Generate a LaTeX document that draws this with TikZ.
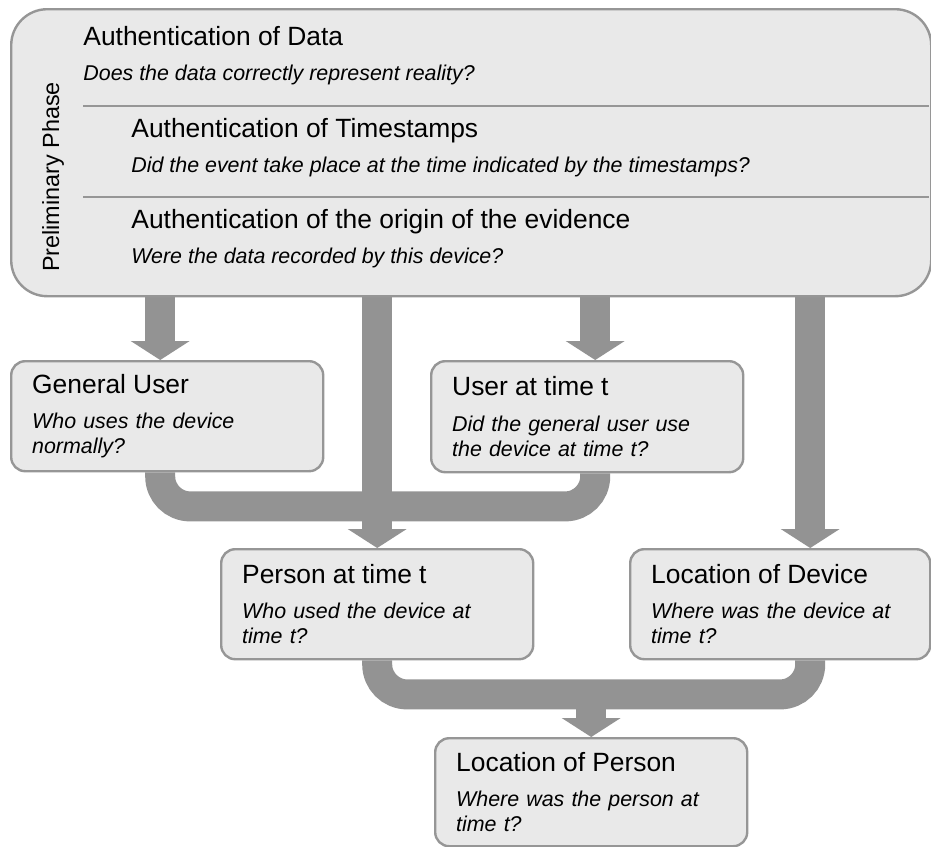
\documentclass[tikz,border=0pt]{standalone}
\usepackage{fontspec}
\setmainfont{Liberation Sans}
\usetikzlibrary{arrows.meta,backgrounds}
\definecolor{boxfill}{HTML}{E9E9E9}
\definecolor{boxline}{HTML}{969696}
\definecolor{flowgray}{HTML}{939393}
\newcommand\subfont{\fontsize{10.7pt}{12.5pt}\selectfont\itshape}
\newcommand\headfont{\fontsize{13.2pt}{16pt}\selectfont\upshape}
\newcommand\boxtitle[1]{{\headfont #1}}
\tikzset{
  box/.style={draw=boxline, line width=1.2pt, fill=boxfill, rounded corners=7pt,
    anchor=north west, align=left, inner xsep=10.5pt, inner ysep=0pt, font=\subfont},
  boxhead/.style={font=\headfont, anchor=base west, inner sep=0pt},
  quest/.style={font=\subfont, anchor=base west, inner sep=0pt},
  rulesep/.style={draw=boxline, line width=1.2pt},
  flowarrow/.style={draw=flowgray, line width=15pt,
    -{Triangle[width=29.5pt,length=9.5pt,line width=0pt]}},
  flowband/.style={draw=flowgray, line width=15pt, rounded corners=15pt},
}

\begin{document}
\begin{tikzpicture}[x=0.5pt, y=-0.5pt]
\useasboundingbox (0,0) rectangle (931,846);
% preliminary phase
\node[box, minimum width=460pt, minimum height=143.5pt, rounded corners=18pt] (top) at (10,8) {};
\node[rotate=90, anchor=base, font=\fontsize{11.7pt}{14pt}\selectfont] (phase) at (59,177) {Preliminary Phase};
\node[boxhead] (t1) at (83,46) {Authentication of Data};
\node[quest] (q1) at (83,80) {Does the data correctly represent reality?};
\draw[rulesep] (83,106) -- (929,106);
\node[boxhead] (t2) at (131,137) {Authentication of Timestamps};
\node[quest] (q2) at (131,172) {Did the event take place at the time indicated by the timestamps?};
\draw[rulesep] (83,197) -- (929,197);
\node[boxhead] (t3) at (131,228) {Authentication of the origin of the evidence};
\node[quest] (q3) at (131,263) {Were the data recorded by this device?};
% analysis steps
\node[box, minimum width=156pt, minimum height=55pt, text width=135pt] (gen) at (10,360)
  {\boxtitle{General User}\\[5.25pt]Who uses the device\\normally?};
\node[box, minimum width=156pt, minimum height=55.5pt, text width=135pt] (usr) at (430,360)
  {\boxtitle{User at time t}\\[5.25pt]Did the general user use\\the device at time t?};
\node[box, minimum width=156pt, minimum height=55pt, text width=135pt] (per) at (220,548)
  {\boxtitle{Person at time t}\\[5.25pt]Who used the device at\\time t?};
\node[box, minimum width=150pt, minimum height=55pt, text width=129pt] (dev) at (629,548)
  {\boxtitle{Location of Device}\\[5.25pt]Where was the device at\\time t?};
\node[box, minimum width=156pt, minimum height=54pt, text width=135pt] (loc) at (434,737)
  {\boxtitle{Location of Person}\\[5.25pt]Where was the person at\\time t?};
% connectors
\begin{scope}[on background layer]
\coordinate (c1) at ([xshift=-3.5pt]gen.north);
\coordinate (c2) at (per.north);
\coordinate (c3) at ([xshift=4pt]usr.north);
\coordinate (c4) at ([xshift=15pt]dev.north);
\coordinate (j2) at ([yshift=-17pt]per.south -| loc.north);
\draw[flowarrow] (c1 |- top.south) -- (c1);
\draw[flowarrow] (c3 |- top.south) -- (c3);
\draw[flowband] (c1 |- gen.south) -- ++(0,34) -| (c3 |- usr.south);
\draw[flowarrow] (c2 |- top.south) -- (c2);
\draw[flowarrow] (c4 |- top.south) -- (c4);
\draw[flowband] (per.south) -- ++(0,34) -| (c4 |- dev.south);
\draw[flowarrow] (j2) -- (loc.north);
\end{scope}
\end{tikzpicture}
\end{document}
